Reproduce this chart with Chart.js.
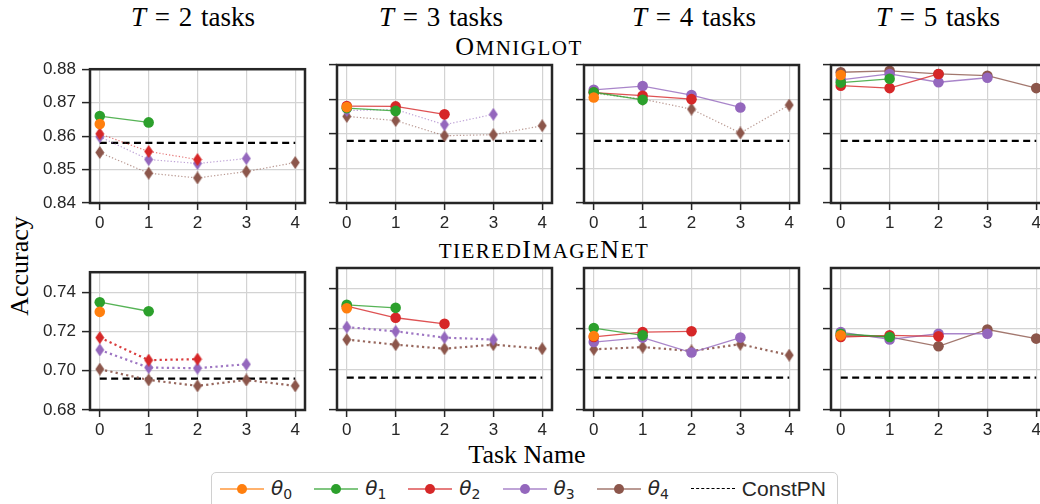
<!DOCTYPE html>
<html>
<head>
<meta charset="utf-8">
<title>Accuracy per task</title>
<script src="https://cdn.jsdelivr.net/npm/chart.js"></script>
<style>
    body {
        margin: 0;
        width: 1040px;
        height: 504px;
        overflow: hidden;
        position: relative;
        background: #fff;
        font-family: "Liberation Serif", serif;
        color: #000;
    }
    canvas { position: absolute; }
    .lbl {
        position: absolute;
        transform: translate(-50%, -50%);
        white-space: nowrap;
        font-size: 26px;
    }
    .ttl { font-size: 27px; word-spacing: 2px; }
    .sc { letter-spacing: 1.5px; }
    .sc small { font-size: 21px; }
    #legend {
        position: absolute;
        left: 211px; top: 472px;
        width: 627px; height: 44px;
        border: 1px solid #d0d0d0;
        border-radius: 5px;
        box-sizing: border-box;
        display: flex;
        align-items: center;
        padding-left: 8px;
        padding-bottom: 10px;
        font-family: "Liberation Sans", sans-serif;
        font-size: 21px;
        color: #262626;
    }
    .item { display: flex; align-items: center; margin-right: 22px; }
    .swatch { position: relative; width: 44px; height: 12px; margin-right: 7px; }
    .swatch .ln { position: absolute; left: 0; right: 0; top: 5px; height: 1.6px; }
    .swatch .dot { position: absolute; left: 17px; top: 1px; width: 10px; height: 10px; border-radius: 50%; }
    .swatch .dash { position: absolute; left: 0; right: 0; top: 5px; border-top: 1.3px dashed #000; }
    .th { font-family: "DejaVu Sans", sans-serif; font-style: italic; font-size: 20px; }
    .th sub { font-style: normal; font-size: 14px; vertical-align: -4px; }
</style>
</head>
<body>
<div class="lbl ttl" style="left:193px; top:17px"><i>T</i> = 2 tasks</div>
<div class="lbl ttl" style="left:441px; top:17px"><i>T</i> = 3 tasks</div>
<div class="lbl ttl" style="left:694px; top:17px"><i>T</i> = 4 tasks</div>
<div class="lbl ttl" style="left:938px; top:17px"><i>T</i> = 5 tasks</div>
<div class="lbl sc" style="left:519px; top:47px">O<small>MNIGLOT</small></div>
<div class="lbl sc" style="left:544px; top:250px"><small>TIERED</small>I<small>MAGE</small>N<small>ET</small></div>
<div class="lbl" style="left:20px; top:266px; transform:translate(-50%,-50%) rotate(-90deg)">Accuracy</div>
<div class="lbl" style="left:527px; top:455px">Task Name</div>

<div id="legend"></div>

<script>
    // ---- data ----
    const X_TICKS = [0, 1, 2, 3, 4];
    const SERIES = ['θ0', 'θ1', 'θ2', 'θ3', 'θ4'];
    const TASK_COUNTS = [2, 3, 4, 5];

    const Y_TICKS_OMNI = [0.84, 0.85, 0.86, 0.87, 0.88];
    const Y_TICKS_TIERED = [0.68, 0.70, 0.72, 0.74];
    const CONST_PN_OMNI = 0.858;
    const CONST_PN_TIERED = 0.696;

    // one list per theta: accuracy on task 0..k
    const OMNI_T2 = [
        [0.8636],
        [0.8660, 0.8641],
        [0.8607, 0.8554, 0.8530],
        [0.8598, 0.8530, 0.8518, 0.8533],
        [0.8551, 0.8489, 0.8475, 0.8494, 0.8521]
    ];
    const OMNI_T3 = [
        [0.8678],
        [0.8675, 0.8667],
        [0.8681, 0.8680, 0.8657],
        [0.8668, 0.8671, 0.8627, 0.8657],
        [0.8651, 0.8639, 0.8595, 0.8598, 0.8624]
    ];
    const OMNI_T4 = [
        [0.8706],
        [0.8721, 0.8699],
        [0.8720, 0.8711, 0.8701],
        [0.8728, 0.8739, 0.8713, 0.8677],
        [0.8718, 0.8701, 0.8672, 0.8603, 0.8684]
    ];
    const OMNI_T5 = [
        [0.8771],
        [0.8749, 0.8760],
        [0.8740, 0.8733, 0.8774],
        [0.8757, 0.8774, 0.8750, 0.8763],
        [0.8779, 0.8783, 0.8774, 0.8769, 0.8733]
    ];
    const TIERED_T2 = [
        [0.7300],
        [0.7349, 0.7303],
        [0.7169, 0.7054, 0.7059],
        [0.7106, 0.7016, 0.7013, 0.7033],
        [0.7008, 0.6953, 0.6923, 0.6953, 0.6923]
    ];
    const TIERED_T3 = [
        [0.7303],
        [0.7320, 0.7305],
        [0.7313, 0.7256, 0.7226],
        [0.7210, 0.7189, 0.7158, 0.7148],
        [0.7148, 0.7123, 0.7103, 0.7123, 0.7103]
    ];
    const TIERED_T4 = [
        [0.7166],
        [0.7205, 0.7169],
        [0.7161, 0.7185, 0.7189],
        [0.7136, 0.7158, 0.7084, 0.7158],
        [0.7100, 0.7111, 0.7092, 0.7125, 0.7071]
    ];
    const TIERED_T5 = [
        [0.7169],
        [0.7177, 0.7161],
        [0.7161, 0.7169, 0.7164],
        [0.7185, 0.7149, 0.7177, 0.7177],
        [0.7169, 0.7161, 0.7115, 0.7198, 0.7153]
    ];

    // ---- styling / layout ----
    const COLORS = ['#ff7f0e', '#2ca02c', '#d62728', '#9467bd', '#8c564b'];
    const INK = '#262626';
    const PANEL_LEFT = [90, 337, 584, 831];
    const PANEL_W = 215;
    const Y_AXIS_W = 60, X_AXIS_H = 30, PAD_TOP = 12, PAD_RIGHT = 6;

    const ROWS = [
        { top: 65, h: 138, min: 0.84, max: 0.88, ticks: Y_TICKS_OMNI, constPN: CONST_PN_OMNI,
          panels: [OMNI_T2, OMNI_T3, OMNI_T4, OMNI_T5], dotWidth: 1.2, dotDash: [1.3, 2] },
        { top: 268, h: 142, min: 0.68, max: 0.7502, ticks: Y_TICKS_TIERED, constPN: CONST_PN_TIERED,
          panels: [TIERED_T2, TIERED_T3, TIERED_T4, TIERED_T5], dotWidth: 2.2, dotDash: [2.2, 3.2] }
    ];

    function hexA(hex, a) {
        const n = parseInt(hex.slice(1), 16);
        return 'rgba(' + (n >> 16) + ',' + ((n >> 8) & 255) + ',' + (n & 255) + ',' + a + ')';
    }

    // thin diamond marker like matplotlib's 'd'
    function diamond(color) {
        const c = document.createElement('canvas');
        c.width = 10; c.height = 13;
        const g = c.getContext('2d');
        g.fillStyle = color;
        g.beginPath();
        g.moveTo(5, 0); g.lineTo(9.5, 6.5); g.lineTo(5, 13); g.lineTo(0.5, 6.5);
        g.closePath();
        g.fill();
        return c;
    }
    const DIAMONDS = COLORS.map(diamond);

    const framePlugin = {
        id: 'frame',
        afterDraw(chart) {
            const a = chart.chartArea, ctx = chart.ctx;
            ctx.save();
            ctx.strokeStyle = INK;
            ctx.lineWidth = 2.5;
            ctx.strokeRect(a.left, a.top, a.right - a.left, a.bottom - a.top);
            ctx.restore();
        }
    };

    ROWS.forEach(function (row, r) {
        row.panels.forEach(function (series, c) {
            const T = TASK_COUNTS[c];
            const canvas = document.createElement('canvas');
            canvas.width = Y_AXIS_W + PANEL_W + PAD_RIGHT;
            canvas.height = PAD_TOP + row.h + X_AXIS_H;
            canvas.style.left = (PANEL_LEFT[c] - Y_AXIS_W) + 'px';
            canvas.style.top = (row.top - PAD_TOP) + 'px';
            document.body.appendChild(canvas);

            const datasets = series.map(function (vals, j) {
                const solid = j < T;
                return {
                    label: SERIES[j],
                    data: vals.map((v, i) => ({ x: X_TICKS[i], y: v })),
                    borderColor: hexA(COLORS[j], solid ? 0.8 : (r === 0 ? 0.6 : 0.9)),
                    backgroundColor: COLORS[j],
                    borderWidth: solid ? 1.3 : row.dotWidth,
                    borderDash: solid ? [] : row.dotDash,
                    pointStyle: solid ? 'circle' : DIAMONDS[j],
                    pointRadius: 5.3,
                    pointBackgroundColor: COLORS[j],
                    pointBorderColor: COLORS[j],
                    pointBorderWidth: 0,
                    tension: 0
                };
            });
            datasets.push({
                label: 'ConstPN',
                data: [{ x: X_TICKS[0], y: row.constPN }, { x: X_TICKS[X_TICKS.length - 1], y: row.constPN }],
                borderColor: '#000',
                borderWidth: 2.2,
                borderDash: [7, 4.4],
                pointRadius: 0
            });

            new Chart(canvas, {
                type: 'line',
                data: { datasets: datasets },
                plugins: [framePlugin],
                options: {
                    responsive: false,
                    animation: false,
                    events: [],
                    layout: { padding: { top: PAD_TOP, right: PAD_RIGHT, left: 0, bottom: 0 } },
                    plugins: { legend: { display: false }, tooltip: { enabled: false } },
                    scales: {
                        x: {
                            type: 'linear',
                            min: -0.2, max: 4.2,
                            afterBuildTicks: s => { s.ticks = X_TICKS.map(v => ({ value: v })); },
                            afterFit: s => { s.height = X_AXIS_H; },
                            border: { display: false },
                            grid: { color: '#d3d3d3', lineWidth: 1.2, tickColor: INK, tickWidth: 1.5, tickLength: 7 },
                            ticks: { color: INK, padding: 3, maxRotation: 0,
                                     font: { family: 'Liberation Sans', size: 17 },
                                     callback: v => String(v) }
                        },
                        y: {
                            min: row.min, max: row.max,
                            afterBuildTicks: s => { s.ticks = row.ticks.map(v => ({ value: v })); },
                            afterFit: s => { s.width = Y_AXIS_W; },
                            border: { display: false },
                            grid: { color: '#d3d3d3', lineWidth: 1.2, tickColor: INK, tickWidth: 1.5, tickLength: 8 },
                            ticks: { display: c === 0, color: INK, padding: 6,
                                     font: { family: 'Liberation Sans', size: 17 },
                                     callback: v => v.toFixed(2) }
                        }
                    }
                }
            });
        });
    });

    // legend
    const legend = document.getElementById('legend');
    SERIES.forEach(function (name, j) {
        const item = document.createElement('div');
        item.className = 'item';
        item.innerHTML = '<div class="swatch"><div class="ln" style="background:' + hexA(COLORS[j], 0.6) + '"></div>' +
            '<div class="dot" style="background:' + COLORS[j] + '"></div></div>' +
            '<span class="th">θ<sub>' + name.slice(1) + '</sub></span>';
        legend.appendChild(item);
    });
    const cp = document.createElement('div');
    cp.className = 'item';
    cp.innerHTML = '<div class="swatch"><div class="dash"></div></div><span>ConstPN</span>';
    legend.appendChild(cp);
</script>
</body>
</html>
